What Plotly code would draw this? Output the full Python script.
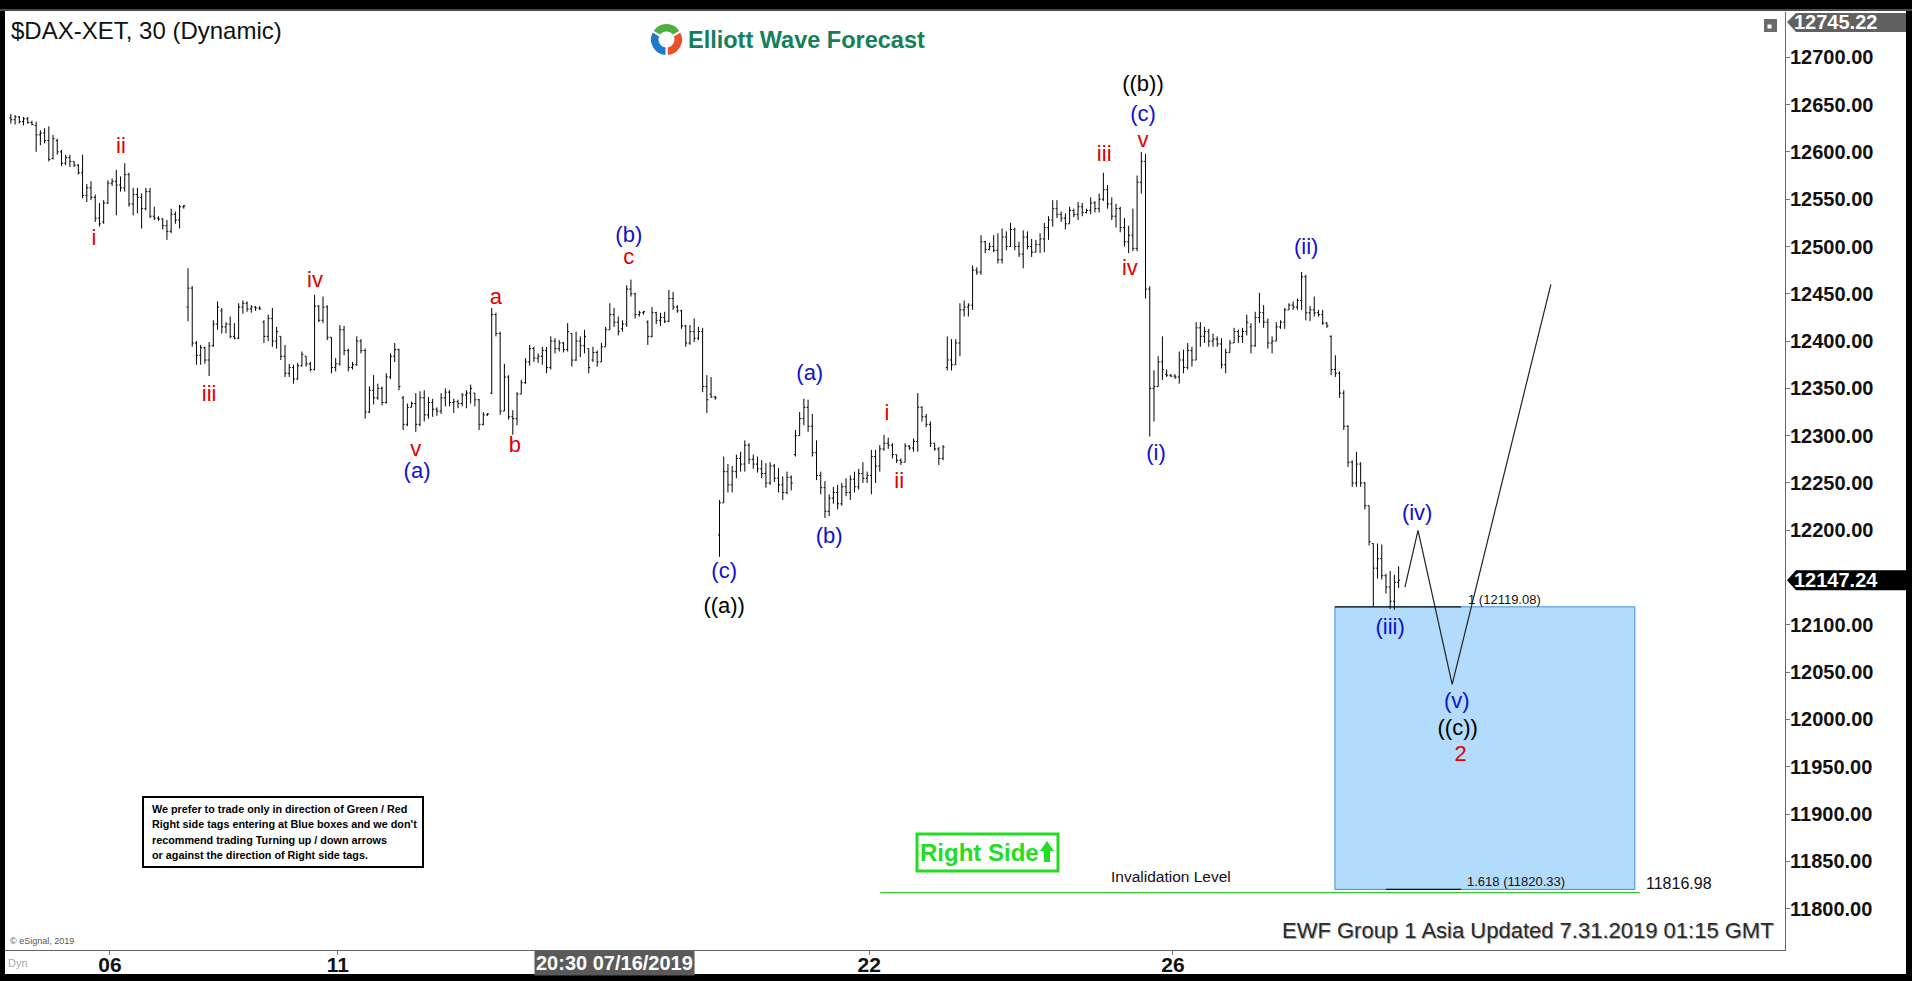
import plotly.graph_objects as go

# ---------------- data (30-min bars, $DAX-XET) ----------------
opens = [
    12636, 12634, 12637, 12632, 12635, 12631,
    12628, 12618, 12620, 12612, 12593, 12612, 12600, 12588, 12594, 12590, 12586, 12578, 12554, 12562, 12552, 12530, 12526, 12546,
    12567, 12569, 12565, 12562, 12576, 12545, 12555, 12552, 12540, 12558, 12532, 12530, 12529, 12522, 12516, 12534, 12528, 12542,
    12436, 12456, 12398, 12385, 12393, 12380, 12395, 12418, 12432, 12415, 12418, 12405, 12403, 12436, 12440, 12434, 12436, 12435,
    12420, 12405, 12424, 12400, 12405, 12384, 12366, 12372, 12360, 12374, 12384, 12376, 12370, 12437, 12422, 12436, 12404, 12372,
    12376, 12412, 12390, 12372, 12375, 12400, 12390, 12325, 12348, 12340, 12350, 12335, 12362, 12384, 12391, 12340, 12312, 12330,
    12334, 12312, 12340, 12322, 12335, 12328, 12326, 12340, 12346, 12335, 12336, 12334, 12343, 12345, 12345, 12338, 12312, 12322,
    12345, 12428, 12408, 12326, 12362, 12320, 12318, 12344, 12356, 12378, 12392, 12382, 12384, 12390, 12372, 12400, 12392, 12398,
    12391, 12408, 12380, 12400, 12395, 12392, 12380, 12388, 12378, 12394, 12412, 12428, 12420, 12413, 12418, 12455, 12450, 12428,
    12430, 12420, 12405, 12430, 12422, 12425, 12421, 12445, 12436, 12432, 12416, 12398, 12410, 12403, 12410, 12352, 12344, 12341,
    12195, 12229, 12262, 12248, 12262, 12276, 12270, 12290, 12275, 12270, 12265, 12260, 12250, 12268, 12255, 12248, 12240, 12256,
    12280, 12300, 12318, 12330, 12310, 12282, 12258, 12245, 12220, 12234, 12240, 12228, 12246, 12240, 12254, 12246, 12260, 12255,
    12258, 12278, 12268, 12286, 12292, 12290, 12280, 12274, 12272, 12289, 12287, 12294, 12330, 12320, 12312, 12292, 12286, 12276,
    12372, 12380, 12375, 12398, 12433, 12436, 12438, 12475, 12473, 12505, 12497, 12500, 12496, 12486, 12510, 12500, 12518, 12500,
    12492, 12510, 12500, 12494, 12502, 12508, 12520, 12528, 12540, 12534, 12530, 12524, 12538, 12534, 12542, 12536, 12538, 12546,
    12540, 12550, 12560, 12545, 12532, 12540, 12520, 12505, 12512, 12498, 12568, 12590, 12455, 12350, 12352, 12378, 12365, 12364,
    12363, 12362, 12380, 12372, 12390, 12380, 12414, 12405, 12410, 12400, 12402, 12397, 12375, 12388, 12398, 12410, 12405, 12410,
    12415, 12395, 12425, 12430, 12420, 12398, 12400, 12415, 12420, 12433, 12438, 12436, 12443, 12468, 12430, 12433, 12430, 12428,
    12419, 12405, 12370, 12366, 12345, 12310, 12272, 12250, 12270, 12250, 12226, 12186, 12160, 12170, 12152, 12140, 12125, 12145,
]
highs = [
    12640, 12639, 12638, 12637, 12637, 12633,
    12632, 12623, 12625, 12627, 12618, 12614, 12602, 12597, 12597, 12590, 12587, 12597, 12566, 12569, 12555, 12546, 12549, 12570,
    12572, 12581, 12574, 12588, 12578, 12562, 12562, 12556, 12562, 12562, 12542, 12532, 12530, 12528, 12540, 12537, 12544, 12544,
    12477, 12458, 12400, 12396, 12394, 12399, 12422, 12442, 12435, 12420, 12426, 12419, 12440, 12443, 12442, 12438, 12437, 12437,
    12422, 12428, 12435, 12415, 12405, 12396, 12376, 12375, 12377, 12389, 12384, 12378, 12449, 12438, 12447, 12438, 12404, 12382,
    12417, 12416, 12392, 12378, 12405, 12402, 12392, 12352, 12364, 12355, 12352, 12366, 12387, 12398, 12392, 12342, 12334, 12336,
    12345, 12347, 12348, 12341, 12339, 12330, 12345, 12350, 12348, 12339, 12338, 12345, 12348, 12354, 12345, 12339, 12325, 12324,
    12435, 12430, 12410, 12376, 12364, 12327, 12346, 12359, 12382, 12396, 12394, 12387, 12394, 12394, 12405, 12403, 12401, 12399,
    12419, 12408, 12410, 12405, 12412, 12392, 12394, 12390, 12398, 12415, 12440, 12435, 12426, 12422, 12459, 12465, 12451, 12432,
    12432, 12422, 12436, 12431, 12430, 12431, 12454, 12452, 12438, 12433, 12417, 12417, 12424, 12415, 12414, 12364, 12362, 12342,
    12232, 12278, 12270, 12268, 12280, 12283, 12295, 12292, 12280, 12278, 12274, 12271, 12272, 12270, 12266, 12257, 12262, 12258,
    12306, 12325, 12339, 12338, 12323, 12295, 12262, 12252, 12238, 12246, 12248, 12250, 12255, 12258, 12262, 12265, 12272, 12262,
    12285, 12285, 12290, 12301, 12298, 12292, 12280, 12276, 12292, 12290, 12297, 12345, 12331, 12323, 12315, 12292, 12288, 12290,
    12405, 12402, 12402, 12440, 12443, 12440, 12480, 12478, 12512, 12506, 12504, 12512, 12514, 12519, 12516, 12525, 12520, 12505,
    12517, 12516, 12508, 12507, 12514, 12525, 12532, 12549, 12549, 12537, 12535, 12542, 12540, 12547, 12546, 12540, 12552, 12548,
    12556, 12578, 12565, 12552, 12545, 12542, 12530, 12522, 12540, 12575, 12600, 12598, 12458, 12369, 12384, 12405, 12370, 12365,
    12365, 12389, 12391, 12398, 12394, 12420, 12420, 12415, 12413, 12408, 12405, 12403, 12392, 12401, 12414, 12412, 12414, 12428,
    12419, 12431, 12451, 12438, 12424, 12405, 12420, 12422, 12435, 12440, 12442, 12445, 12473, 12470, 12437, 12447, 12433, 12433,
    12420, 12406, 12385, 12368, 12348, 12311, 12274, 12283, 12272, 12251, 12226, 12186, 12186, 12185, 12154, 12157, 12153, 12162,
]
lows = [
    12630, 12629, 12630, 12628, 12630, 12628,
    12600, 12607, 12609, 12590, 12592, 12597, 12585, 12586, 12584, 12584, 12576, 12551, 12547, 12549, 12526, 12521, 12524, 12545,
    12564, 12533, 12558, 12558, 12542, 12533, 12535, 12519, 12538, 12530, 12528, 12527, 12518, 12507, 12514, 12524, 12519, 12540,
    12421, 12394, 12375, 12375, 12376, 12363, 12394, 12412, 12408, 12408, 12403, 12402, 12402, 12429, 12431, 12430, 12432, 12433,
    12398, 12400, 12394, 12392, 12380, 12362, 12362, 12355, 12359, 12373, 12373, 12368, 12369, 12420, 12419, 12401, 12366, 12368,
    12374, 12385, 12368, 12370, 12374, 12387, 12318, 12324, 12333, 12338, 12332, 12334, 12360, 12378, 12348, 12306, 12310, 12330,
    12304, 12310, 12315, 12318, 12320, 12321, 12323, 12331, 12331, 12324, 12329, 12331, 12329, 12334, 12331, 12306, 12311, 12321,
    12344, 12405, 12322, 12326, 12317, 12301, 12311, 12344, 12355, 12374, 12378, 12377, 12375, 12366, 12370, 12387, 12389, 12388,
    12389, 12373, 12379, 12383, 12387, 12366, 12378, 12373, 12378, 12394, 12412, 12415, 12406, 12410, 12415, 12447, 12424, 12426,
    12428, 12396, 12404, 12418, 12416, 12419, 12420, 12433, 12430, 12413, 12394, 12396, 12399, 12401, 12346, 12324, 12340, 12338,
    12172, 12229, 12240, 12240, 12255, 12262, 12262, 12270, 12265, 12261, 12255, 12245, 12248, 12251, 12240, 12232, 12238, 12242,
    12278, 12300, 12311, 12304, 12278, 12253, 12238, 12213, 12215, 12228, 12222, 12226, 12236, 12232, 12240, 12243, 12250, 12250,
    12238, 12250, 12262, 12284, 12286, 12276, 12271, 12269, 12272, 12285, 12283, 12283, 12315, 12309, 12288, 12284, 12269, 12274,
    12369, 12369, 12375, 12384, 12426, 12426, 12433, 12470, 12470, 12493, 12496, 12494, 12482, 12482, 12496, 12500, 12496, 12489,
    12477, 12497, 12489, 12494, 12493, 12494, 12507, 12521, 12530, 12526, 12518, 12524, 12531, 12528, 12532, 12535, 12534, 12536,
    12536, 12548, 12540, 12528, 12520, 12515, 12500, 12493, 12495, 12495, 12556, 12445, 12299, 12315, 12352, 12359, 12362, 12362,
    12360, 12355, 12366, 12370, 12373, 12380, 12394, 12398, 12394, 12394, 12394, 12371, 12366, 12388, 12398, 12398, 12398, 12406,
    12387, 12394, 12419, 12414, 12392, 12387, 12400, 12413, 12413, 12433, 12433, 12433, 12433, 12422, 12421, 12426, 12426, 12417,
    12414, 12364, 12362, 12340, 12306, 12267, 12246, 12246, 12246, 12222, 12184, 12119, 12149, 12148, 12133, 12117, 12116, 12139,
]
closes = [
    12634, 12637, 12632, 12635, 12631, 12629,
    12618, 12620, 12612, 12592, 12614, 12600, 12588, 12594, 12590, 12586, 12578, 12554, 12562, 12552, 12530, 12524, 12546, 12567,
    12569, 12565, 12562, 12576, 12545, 12555, 12552, 12540, 12558, 12532, 12530, 12529, 12522, 12516, 12534, 12528, 12542, 12543,
    12456, 12398, 12385, 12393, 12380, 12395, 12418, 12436, 12415, 12418, 12405, 12403, 12436, 12440, 12434, 12436, 12435, 12434,
    12405, 12424, 12400, 12410, 12384, 12366, 12372, 12360, 12374, 12386, 12376, 12370, 12437, 12422, 12436, 12404, 12372, 12376,
    12412, 12390, 12372, 12375, 12400, 12390, 12325, 12348, 12340, 12350, 12335, 12362, 12384, 12391, 12352, 12312, 12330, 12334,
    12312, 12340, 12322, 12335, 12328, 12326, 12340, 12346, 12335, 12336, 12334, 12343, 12345, 12350, 12338, 12312, 12322, 12323,
    12428, 12408, 12326, 12362, 12320, 12318, 12344, 12356, 12378, 12392, 12382, 12384, 12390, 12372, 12400, 12392, 12398, 12391,
    12410, 12380, 12400, 12395, 12405, 12372, 12388, 12378, 12394, 12412, 12428, 12420, 12410, 12418, 12455, 12450, 12428, 12430,
    12431, 12405, 12430, 12422, 12425, 12421, 12445, 12436, 12432, 12416, 12398, 12410, 12403, 12410, 12352, 12338, 12341, 12340,
    12229, 12262, 12248, 12262, 12276, 12270, 12290, 12275, 12270, 12265, 12260, 12250, 12268, 12255, 12248, 12240, 12256, 12250,
    12300, 12318, 12330, 12310, 12282, 12258, 12245, 12220, 12234, 12240, 12228, 12246, 12240, 12254, 12246, 12260, 12255, 12258,
    12278, 12268, 12286, 12292, 12290, 12280, 12274, 12272, 12289, 12287, 12294, 12330, 12320, 12312, 12292, 12286, 12276, 12288,
    12380, 12375, 12398, 12433, 12436, 12438, 12475, 12473, 12505, 12497, 12500, 12496, 12486, 12510, 12500, 12518, 12500, 12492,
    12510, 12500, 12494, 12502, 12508, 12520, 12528, 12540, 12534, 12530, 12524, 12538, 12534, 12542, 12536, 12538, 12546, 12540,
    12550, 12560, 12545, 12532, 12540, 12520, 12505, 12512, 12498, 12568, 12590, 12455, 12350, 12352, 12378, 12370, 12364, 12363,
    12362, 12380, 12372, 12390, 12380, 12414, 12405, 12410, 12400, 12402, 12397, 12375, 12388, 12398, 12410, 12405, 12410, 12420,
    12395, 12425, 12430, 12420, 12398, 12400, 12415, 12420, 12433, 12438, 12436, 12443, 12468, 12430, 12433, 12430, 12428, 12419,
    12416, 12370, 12366, 12345, 12310, 12272, 12250, 12270, 12250, 12226, 12188, 12160, 12170, 12152, 12140, 12125, 12145, 12147.24,
]
bar_index = list(range(len(closes)))

tick_vals = [23.5, 77.5, 203.5, 275.5]
tick_text = ["06", "11", "22", "26"]
cursor_bar = 143
cursor_text = "20:30 07/16/2019"

price_ticks = [11800, 11850, 11900, 11950, 12000, 12050, 12100, 12200, 12250, 12300,
               12350, 12400, 12450, 12500, 12550, 12600, 12650, 12700]

last_price = 12147.24
top_price = 12745.22

proj_x = [330.5, 333.6, 341.7, 365.1]
proj_y = [12140, 12200, 12037, 12460]

fib_100 = 12119.08
fib_1618 = 11820.33
invalidation = 11816.98

red_text = ["i", "ii", "iii", "iv", "v", "a", "b", "c", "i", "ii", "iii", "iv", "v", "2"]
red_x = [19.7, 26.1, 47.0, 72.1, 96.0, 115.0, 119.5, 146.5, 207.7, 210.6, 259.2, 265.3, 268.4, 343.7]
red_y = [12507, 12605, 12343, 12463, 12284, 12445, 12289, 12487, 12322, 12250, 12596, 12476, 12611, 11962]

blue_text = ["(a)", "(b)", "(c)", "(a)", "(b)", "(c)", "(i)", "(ii)", "(iii)", "(iv)", "(v)"]
blue_x = [96.3, 146.5, 169.1, 189.4, 194.0, 268.4, 271.5, 307.1, 327.0, 333.4, 342.8]
blue_y = [12261, 12511, 12155, 12365, 12192, 12639, 12280, 12498, 12096, 12217, 12018]

black_text = ["((a))", "((b))", "((c))"]
black_x = [169.1, 268.4, 343.0]
black_y = [12118, 12670, 11989]

note_lines = [
    "We prefer to trade only in direction of Green / Red",
    "Right side tags entering at Blue boxes and we don't",
    "recommend trading Turning up / down arrows",
    "or against the direction of Right side tags.",
]

# ---------------- layout helpers ----------------
W, H = 1912, 981
ML, MR, MT, MB = 5, 127, 12, 31
PW = W - ML - MR
PH = H - MT - MB
FONT = "Liberation Sans, Arial, sans-serif"
NARROW = "Liberation Sans Narrow, Arial Narrow, Liberation Sans, sans-serif"
RED = "#e00000"
BLUE = "#1010d0"


def px_x(px):
    return (px - ML) / PW


def px_y(py):
    return (H - MB - py) / PH


def ppath(points):
    return "M " + " L ".join(f"{px_x(x):.5f},{px_y(y):.5f}" for x, y in points) + " Z"


fig = go.Figure()

fig.add_trace(go.Ohlc(
    x=bar_index, open=opens, high=highs, low=lows, close=closes,
    increasing=dict(line=dict(color="#000000", width=1)),
    decreasing=dict(line=dict(color="#000000", width=1)),
    tickwidth=0.35, hoverinfo="skip", showlegend=False,
))

fig.add_trace(go.Scatter(
    x=proj_x, y=proj_y, mode="lines",
    line=dict(color="#222222", width=1.2), hoverinfo="skip", showlegend=False,
))

for txt, xs, ys, col in [(red_text, red_x, red_y, RED),
                         (blue_text, blue_x, blue_y, BLUE),
                         (black_text, black_x, black_y, "#000000")]:
    fig.add_trace(go.Scatter(
        x=xs, y=ys, text=txt, mode="text", textposition="middle center",
        textfont=dict(family=FONT, size=22, color=col),
        hoverinfo="skip", showlegend=False,
    ))

# logo icon
fig.add_trace(go.Pie(
    values=[1, 1, 1], marker=dict(colors=["#4caf3f", "#e9502a", "#1f78c8"], line=dict(color="white", width=2)),
    hole=0.42, sort=False, rotation=300, direction="clockwise", textinfo="none", hoverinfo="skip",
    showlegend=False, domain=dict(x=[px_x(650), px_x(683)], y=[px_y(56), px_y(23)]),
))

shapes = []
# white panel on black frame
shapes.append(dict(type="rect", xref="paper", yref="paper", x0=px_x(5), x1=px_x(1906),
                   y0=px_y(974), y1=px_y(11), fillcolor="white", line=dict(width=0), layer="below"))
shapes.append(dict(type="line", xref="paper", yref="paper", x0=px_x(0), x1=px_x(1912),
                   y0=px_y(10), y1=px_y(10), line=dict(color="#4a4a4a", width=2)))
# blue target box
shapes.append(dict(type="rect", xref="x", yref="y", x0=313.9, x1=385.0, y0=fib_1618, y1=fib_100,
                   fillcolor="#b3dbfb", line=dict(color="#3f8fdf", width=1), layer="below"))
shapes.append(dict(type="line", xref="x", yref="y", x0=313.9, x1=343.8, y0=fib_100, y1=fib_100,
                   line=dict(color="#111111", width=1.2)))
shapes.append(dict(type="line", xref="x", yref="y", x0=326.0, x1=343.8, y0=fib_1618, y1=fib_1618,
                   line=dict(color="#111111", width=1.2)))
# invalidation line
shapes.append(dict(type="line", xref="x", yref="y", x0=206.1, x1=386.2, y0=invalidation, y1=invalidation,
                   line=dict(color="#33cc33", width=1.2)))
# note box
shapes.append(dict(type="rect", xref="paper", yref="paper", x0=px_x(143), x1=px_x(423),
                   y0=px_y(867), y1=px_y(797), fillcolor="white", line=dict(color="#000000", width=2)))
# right side box + arrow
shapes.append(dict(type="rect", xref="paper", yref="paper", x0=px_x(917), x1=px_x(1058),
                   y0=px_y(871), y1=px_y(834), fillcolor="white", line=dict(color="#22dd22", width=3)))
shapes.append(dict(type="path", xref="paper", yref="paper",
                   path=ppath([(1047, 841), (1054, 851), (1050, 851), (1050, 862), (1044, 862), (1044, 851), (1040, 851)]),
                   fillcolor="#22dd22", line=dict(width=0)))
# current price label
shapes.append(dict(type="path", xref="paper", yref="y", ysizemode="pixel", yanchor=last_price,
                   path=(f"M {px_x(1787):.5f},0 L {px_x(1796):.5f},10 L {px_x(1906):.5f},10 "
                         f"L {px_x(1906):.5f},-10 L {px_x(1796):.5f},-10 Z"),
                   fillcolor="#000000", line=dict(width=0)))
# top price label
shapes.append(dict(type="path", xref="paper", yref="paper",
                   path=ppath([(1787, 22), (1796, 13), (1906, 13), (1906, 32), (1796, 32)]),
                   fillcolor="#606060", line=dict(width=0)))
# small icon top right
shapes.append(dict(type="rect", xref="paper", yref="paper", x0=px_x(1764), x1=px_x(1777),
                   y0=px_y(32), y1=px_y(19), fillcolor="#6a6a6a", line=dict(width=0)))
shapes.append(dict(type="rect", xref="paper", yref="paper", x0=px_x(1767), x1=px_x(1772),
                   y0=px_y(29), y1=px_y(24), fillcolor="#ffffff", line=dict(color="#6a6a6a", width=1)))

ann = []
ann.append(dict(text="$DAX-XET, 30 (Dynamic)", xref="paper", yref="paper", x=px_x(9), y=px_y(30),
                xanchor="left", yanchor="middle", showarrow=False, font=dict(family=FONT, size=24, color="#111111")))
ann.append(dict(text="Elliott Wave Forecast", xref="paper", yref="paper", x=px_x(686), y=px_y(40),
                xanchor="left", yanchor="middle", showarrow=False,
                font=dict(family=FONT, size=23.5, color="#12805a", weight="bold")))
ann.append(dict(text=f"{last_price:.2f}", xref="paper", yref="y", x=px_x(1792), y=last_price,
                xanchor="left", yanchor="middle", showarrow=False,
                font=dict(family=FONT, size=20, color="#ffffff", weight="bold")))
ann.append(dict(text=f"{top_price:.2f}", xref="paper", yref="paper", x=px_x(1792), y=px_y(22.5),
                xanchor="left", yanchor="middle", showarrow=False,
                font=dict(family=FONT, size=20, color="#ffffff", weight="bold")))
ann.append(dict(text=cursor_text, xref="x", yref="paper", x=cursor_bar, y=px_y(963),
                xanchor="center", yanchor="middle", showarrow=False, bgcolor="#5a5a5a", borderpad=1,
                font=dict(family=NARROW, size=20, color="#ffffff", weight="bold")))
upd = "EWF Group 1 Asia Updated 7.31.2019 01:15 GMT"
ann.append(dict(text=upd, xref="paper", yref="paper", x=px_x(1777), y=px_y(931.5),
                xanchor="right", yanchor="middle", showarrow=False, font=dict(family=FONT, size=22, color="#b0b0b0")))
ann.append(dict(text=upd, xref="paper", yref="paper", x=px_x(1776), y=px_y(930),
                xanchor="right", yanchor="middle", showarrow=False, font=dict(family=FONT, size=22, color="#2a2a2a")))
ann.append(dict(text="© eSignal, 2019", xref="paper", yref="paper", x=px_x(8), y=px_y(941),
                xanchor="left", yanchor="middle", showarrow=False, font=dict(family=FONT, size=9, color="#555555")))
ann.append(dict(text="Dyn", xref="paper", yref="paper", x=px_x(6), y=px_y(963),
                xanchor="left", yanchor="middle", showarrow=False, font=dict(family=FONT, size=11, color="#aaaaaa")))
for i, line in enumerate(note_lines):
    ann.append(dict(text=line, xref="paper", yref="paper", x=px_x(150), y=px_y(809 + i * 15.3),
                    xanchor="left", yanchor="middle", showarrow=False,
                    font=dict(family=FONT, size=10.8, color="#000000", weight="bold")))
ann.append(dict(text="Right Side", xref="paper", yref="paper", x=px_x(980), y=px_y(852),
                xanchor="center", yanchor="middle", showarrow=False,
                font=dict(family=NARROW, size=24, color="#22dd22", weight="bold")))
ann.append(dict(text="Invalidation Level", xref="x", yref="y", x=275.0, y=11834,
                xanchor="center", yanchor="middle", showarrow=False, font=dict(family=NARROW, size=15.5, color="#111111")))
ann.append(dict(text=f"1.618 ({fib_1618:.2f})", xref="x", yref="y", x=356.8, y=11829,
                xanchor="center", yanchor="middle", showarrow=False, font=dict(family=NARROW, size=13, color="#111111")))
ann.append(dict(text=f"1 ({fib_100:.2f})", xref="x", yref="y", x=354.2, y=12126.5,
                xanchor="center", yanchor="middle", showarrow=False, font=dict(family=NARROW, size=13, color="#111111")))
ann.append(dict(text=f"{invalidation:.2f}", xref="x", yref="y", x=395.5, y=11827,
                xanchor="center", yanchor="middle", showarrow=False, font=dict(family=FONT, size=16, color="#111111")))

fig.update_layout(
    width=W, height=H,
    margin=dict(l=ML, r=MR, t=MT, b=MB, pad=0, autoexpand=False),
    paper_bgcolor="#000000", plot_bgcolor="#ffffff",
    showlegend=False, hovermode=False,
    shapes=shapes, annotations=ann,
    xaxis=dict(
        range=[-1.39, 420.6], showgrid=False, zeroline=False, automargin=False,
        tickmode="array", tickvals=tick_vals, ticktext=tick_text,
        ticks="outside", ticklen=4, tickcolor="#777777", ticklabelstandoff=-8,
        showline=True, linecolor="#666666", linewidth=1, mirror=False,
        tickfont=dict(family=NARROW, size=21, color="#111111", weight="bold"),
        rangeslider=dict(visible=False), fixedrange=True,
    ),
    yaxis=dict(
        range=[11756.3, 12747.9], side="right", showgrid=False, zeroline=False, automargin=False,
        tickmode="array", tickvals=price_ticks, tickformat=".2f",
        ticks="outside", ticklen=4, tickcolor="#777777", ticklabelstandoff=-4,
        showline=True, linecolor="#666666", linewidth=1,
        tickfont=dict(family=FONT, size=20, color="#111111", weight="bold"),
        fixedrange=True,
    ),
)

fig.write_html("out.html", config={"displayModeBar": False},
               post_script="document.body.style.margin='0';document.body.style.background='#000';")
